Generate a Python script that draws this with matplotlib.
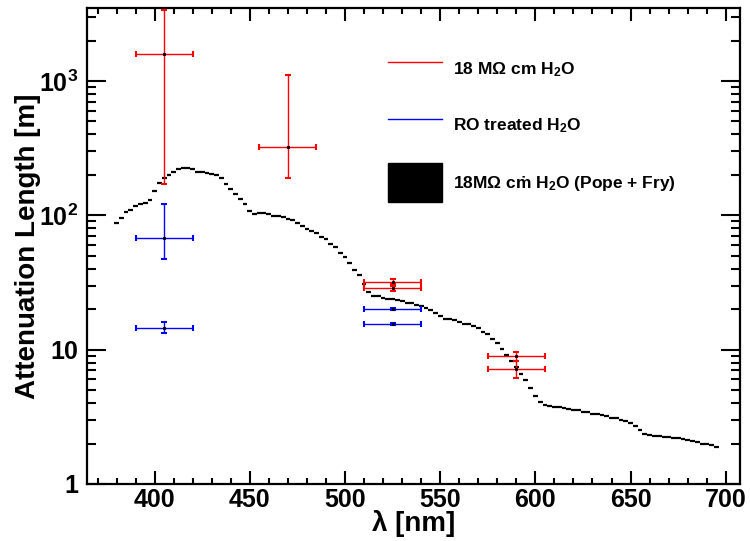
import numpy as np
import matplotlib
matplotlib.use("Agg")
import matplotlib.pyplot as plt
from matplotlib.lines import Line2D
from matplotlib.patches import Patch
from matplotlib.ticker import FixedLocator, FixedFormatter, LogLocator, NullFormatter, MultipleLocator

# Pope + Fry attenuation length [m], 2.5 nm bins
pf_wl = np.arange(380.0, 697.5, 2.5)
pf_att = [88.0, 95.8, 106.3, 109.1, 117.5, 120.6, 123.0, 129.0, 150.8, 172.7,
          188.7, 198.8, 211.4, 221.2, 225.2, 226.2, 220.3, 211.0, 209.2, 207.5,
          202.0, 198.4, 188.7, 172.4, 157.5, 143.7, 133.2, 120.5, 108.5, 103.2,
          104.0, 104.5, 102.1, 99.5, 98.9, 98.0, 94.3, 91.7, 87.7, 82.6,
          78.7, 76.3, 73.5, 69.4, 66.7, 61.7, 57.8, 52.4, 49.0, 43.9,
          39.1, 35.7, 30.8, 26.9, 25.3, 25.1, 24.4, 24.0, 24.0, 23.4,
          23.0, 22.4, 22.1, 21.5, 21.1, 20.4, 19.6, 18.6, 17.7, 16.9,
          16.8, 16.5, 16.2, 15.6, 15.6, 14.9, 14.4, 13.6, 13.0, 12.0,
          11.2, 10.1, 9.09, 8.20, 7.40, 6.60, 5.98, 5.19, 4.50, 4.05,
          3.88, 3.78, 3.75, 3.73, 3.69, 3.63, 3.56, 3.53, 3.44, 3.43,
          3.34, 3.32, 3.25, 3.22, 3.11, 3.08, 2.99, 2.94, 2.85, 2.70,
          2.52, 2.36, 2.33, 2.29, 2.28, 2.23, 2.23, 2.21, 2.19, 2.15,
          2.13, 2.09, 2.05, 2.00, 2.00, 1.95, 1.87]
pf_halfbin = 1.25

# 18 MOhm cm water measurements
red_wl = [405, 470, 525, 525, 590, 590]
red_att = [1600, 323, 32.0, 28.8, 8.9, 7.2]
red_lo = [1430, 134, 1.0, 1.5, 0.7, 1.0]
red_hi = [1780, 793, 1.7, 0.8, 0.7, 1.0]
red_xerr = 15

# RO treated water measurements
blue_wl = [405, 405, 525, 525]
blue_att = [68.0, 14.5, 20.1, 15.5]
blue_lo = [20.8, 1.25, 0.3, 0.2]
blue_hi = [53.6, 1.5, 0.3, 0.2]
blue_xerr = 15

legend_labels = ["18 M\u03a9 cm H$_2$O", "RO treated H$_2$O",
                 "18M\u03a9 c\u1e41 H$_2$O (Pope + Fry)"]
ytick_vals = [1, 10, 100, 1000]
ytick_labels = ["1", "10", r"$10^{2}$", r"$10^{3}$"]

plt.rcParams["font.family"] = ["Liberation Sans", "DejaVu Sans"]
plt.rcParams["font.weight"] = "bold"
plt.rcParams["mathtext.fontset"] = "custom"
plt.rcParams["mathtext.rm"] = "Liberation Sans:bold"
plt.rcParams["mathtext.it"] = "Liberation Sans:bold"
plt.rcParams["mathtext.bf"] = "Liberation Sans:bold"
plt.rcParams["mathtext.default"] = "rm"

fig = plt.figure(figsize=(7.5, 5.41), dpi=100)
ax = fig.add_axes([0.1156, 0.1054, 0.8711, 0.8793])

ax.hlines(pf_att, pf_wl - pf_halfbin, pf_wl + pf_halfbin, colors="black", lw=1.6, zorder=2)

ax.errorbar(red_wl, red_att, xerr=red_xerr, yerr=[red_lo, red_hi], fmt="none",
            ecolor="#ff0000", elinewidth=1.0, capsize=2, capthick=1.5, zorder=3)
ax.errorbar(blue_wl, blue_att, xerr=blue_xerr, yerr=[blue_lo, blue_hi], fmt="none",
            ecolor="#0000ff", elinewidth=1.0, capsize=2, capthick=1.5, zorder=3)
ax.plot(red_wl + blue_wl, red_att + blue_att, ls="none", marker="s", ms=1.2,
        color="black", zorder=4)

ax.set_yscale("log")
ax.set_xlim(364.3, 707.5)
ax.set_ylim(1, 3480)

ax.xaxis.set_major_locator(MultipleLocator(50))
ax.xaxis.set_minor_locator(MultipleLocator(10))
ax.yaxis.set_major_locator(FixedLocator(ytick_vals))
ax.yaxis.set_major_formatter(FixedFormatter(ytick_labels))
ax.yaxis.set_minor_locator(LogLocator(base=10, subs=np.arange(2, 10)))
ax.yaxis.set_minor_formatter(NullFormatter())

ax.tick_params(axis="both", which="both", direction="in", top=True, right=True,
               width=1.5, labelsize=18)
ax.tick_params(axis="x", which="major", length=9.6, pad=3)
ax.tick_params(axis="x", which="minor", length=4.3)
ax.tick_params(axis="y", which="major", length=13.9, pad=6)
ax.tick_params(axis="y", which="minor", length=6.7)
for sp in ax.spines.values():
    sp.set_linewidth(1.6)

ax.set_xlabel("\u03bb [nm]", fontsize=20, fontweight="bold", va="top")
ax.xaxis.set_label_coords(0.5, -0.054)
ax.set_ylabel("Attenuation Length [m]", fontsize=20, fontweight="bold")
ax.yaxis.set_label_coords(-0.07, 0.5)

handles = [Line2D([], [], color="#ff0000", lw=1.0),
           Line2D([], [], color="#0000ff", lw=1.0),
           Patch(facecolor="black", edgecolor="black")]
ax.legend(handles, legend_labels, loc="upper left", bbox_to_anchor=(0.4612, 0.9134),
          frameon=False, fontsize=12.5, handlelength=3.1, handleheight=3.05,
          labelspacing=1.05, handletextpad=0.62, borderpad=0, borderaxespad=0)

fig.savefig("out.png", dpi=100)
